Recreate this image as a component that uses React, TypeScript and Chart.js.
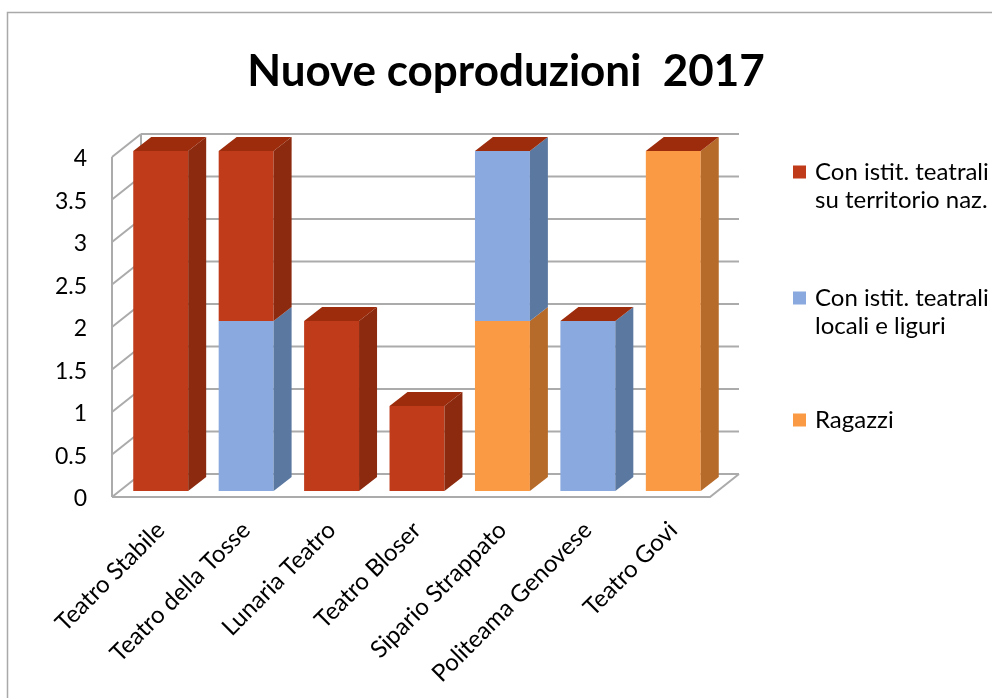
import React, { useEffect, useRef } from "react";
import { Chart, registerables } from "chart.js";

Chart.register(...registerables);

// ---------- data ----------
const TITLE = "Nuove coproduzioni  2017";
const CATEGORIES = [
  "Teatro Stabile",
  "Teatro della Tosse",
  "Lunaria Teatro",
  "Teatro Bloser",
  "Sipario Strappato",
  "Politeama Genovese",
  "Teatro Govi",
];
// legend order
const SERIES_NAMES = [
  ["Con istit. teatrali", "su territorio naz."],
  ["Con istit. teatrali", "locali e liguri"],
  ["Ragazzi"],
];
const NAZ = [4, 2, 2, 1, 0, 0, 0];
const LOCALI = [0, 2, 0, 0, 2, 2, 0];
const RAGAZZI = [0, 0, 0, 0, 2, 0, 4];
const Y_MIN = 0;
const Y_MAX = 4;
const Y_STEP = 0.5;

// ---------- styles ----------
const FONT = "Lato, 'Open Sans', sans-serif";
const FRONT = ["#BF3B1A", "#89A9DF", "#FB9A45"];
const SIDE = ["#8B2A0E", "#5B78A1", "#B76B2A"];
const TOP = "#9C2C0C";
const GRID = "#ababab";
const BAR_DEPTH = { dx: 18, dy: -14 };
const WALL_FRONT = { dx: -6, dy: 6 };
const WALL_BACK = { dx: 23, dy: -17 };

const SERIES_VALUES = [NAZ, LOCALI, RAGAZZI];

const framePlugin = {
  id: "frame",
  beforeDraw(chart: any) {
    const { ctx, width, height } = chart;
    ctx.save();
    ctx.fillStyle = "#ffffff";
    ctx.fillRect(0, 0, width, height);
    ctx.strokeStyle = "#a9a9a9";
    ctx.lineWidth = 1.5;
    ctx.beginPath();
    ctx.moveTo(7.5, height);
    ctx.lineTo(7.5, 12.5);
    ctx.lineTo(width, 12.5);
    ctx.stroke();
    ctx.restore();
  },
};

const wallsPlugin = {
  id: "walls",
  beforeDatasetsDraw(chart: any) {
    const { ctx, chartArea } = chart;
    const { left, right, top, bottom } = chartArea;
    const y = chart.scales.y;
    ctx.save();
    ctx.strokeStyle = GRID;
    ctx.lineWidth = 2;
    ctx.beginPath();
    y.ticks.forEach((t: any) => {
      const py = y.getPixelForValue(t.value);
      ctx.moveTo(left + WALL_BACK.dx, py + WALL_BACK.dy);
      ctx.lineTo(right + WALL_BACK.dx, py + WALL_BACK.dy);
      ctx.moveTo(left + WALL_FRONT.dx, py + WALL_FRONT.dy);
      ctx.lineTo(left + WALL_BACK.dx, py + WALL_BACK.dy);
    });
    ctx.moveTo(left + WALL_FRONT.dx, top + WALL_FRONT.dy);
    ctx.lineTo(left + WALL_FRONT.dx, bottom + WALL_FRONT.dy);
    ctx.moveTo(left + WALL_BACK.dx, top + WALL_BACK.dy);
    ctx.lineTo(left + WALL_BACK.dx, bottom + WALL_BACK.dy);
    ctx.moveTo(left + WALL_FRONT.dx, bottom + WALL_FRONT.dy);
    ctx.lineTo(right + WALL_FRONT.dx, bottom + WALL_FRONT.dy);
    ctx.lineTo(right + WALL_BACK.dx, bottom + WALL_BACK.dy);
    ctx.stroke();
    ctx.restore();
  },
};

const bars3dPlugin = {
  id: "bars3d",
  afterDatasetsDraw(chart: any) {
    const { ctx } = chart;
    const n = chart.data.labels.length;
    const topMost: number[] = new Array(n).fill(-1);
    chart.data.datasets.forEach((ds: any, di: number) => {
      ds.data.forEach((v: number, i: number) => {
        if (v > 0) topMost[i] = di;
      });
    });
    ctx.save();
    chart.data.datasets.forEach((ds: any, di: number) => {
      const meta = chart.getDatasetMeta(di);
      meta.data.forEach((bar: any, i: number) => {
        const { x, y, base, width } = bar.getProps(["x", "y", "base", "width"], true);
        const l = x - width / 2;
        const r = x + width / 2;
        const t = Math.min(y, base);
        const b = Math.max(y, base);
        if (b - t < 0.5) return;
        ctx.fillStyle = ds.sideColor;
        ctx.beginPath();
        ctx.moveTo(r, t);
        ctx.lineTo(r + BAR_DEPTH.dx, t + BAR_DEPTH.dy);
        ctx.lineTo(r + BAR_DEPTH.dx, b + BAR_DEPTH.dy);
        ctx.lineTo(r, b);
        ctx.closePath();
        ctx.fill();
        if (topMost[i] === di) {
          ctx.fillStyle = TOP;
          ctx.beginPath();
          ctx.moveTo(l, t);
          ctx.lineTo(l + BAR_DEPTH.dx, t + BAR_DEPTH.dy);
          ctx.lineTo(r + BAR_DEPTH.dx, t + BAR_DEPTH.dy);
          ctx.lineTo(r, t);
          ctx.closePath();
          ctx.fill();
        }
      });
    });
    ctx.restore();
  },
};

const textPlugin = {
  id: "texts",
  afterDraw(chart: any) {
    const { ctx } = chart;
    ctx.save();
    ctx.fillStyle = "#000000";
    ctx.font = `bold 44px ${FONT}`;
    ctx.textAlign = "center";
    ctx.textBaseline = "alphabetic";
    ctx.fillText(TITLE, 506, 86);
    const itemY = [172, 298, 420];
    ctx.font = `24px ${FONT}`;
    ctx.textAlign = "left";
    ctx.textBaseline = "middle";
    SERIES_NAMES.forEach((lines, s) => {
      const cy = itemY[s];
      ctx.fillStyle = FRONT[s];
      ctx.fillRect(793, cy - 6.5, 13, 13);
      ctx.fillStyle = "#000000";
      lines.forEach((ln, k) => {
        ctx.fillText(ln, 815, cy + k * 28);
      });
    });
    ctx.restore();
  },
};

export default function App() {
  const ref = useRef<HTMLCanvasElement>(null);
  useEffect(() => {
    if (!ref.current) return;
    const stackOrder = [2, 1, 0];
    const chart = new Chart(ref.current, {
      type: "bar",
      data: {
        labels: CATEGORIES,
        datasets: stackOrder.map((s) => ({
          label: SERIES_NAMES[s].join(" "),
          data: SERIES_VALUES[s],
          backgroundColor: FRONT[s],
          sideColor: SIDE[s],
          borderWidth: 0,
          barPercentage: 0.643,
          categoryPercentage: 1,
        })) as any,
      },
      options: {
        animation: false,
        responsive: false,
        devicePixelRatio: 1,
        layout: { padding: { left: 55, top: 151, right: 276, bottom: 0 } },
        plugins: {
          legend: { display: false },
          title: { display: false },
          tooltip: { enabled: false },
        },
        scales: {
          x: {
            stacked: true,
            grid: { display: false, drawTicks: false },
            border: { display: false },
            ticks: {
              autoSkip: false,
              maxRotation: 45,
              minRotation: 45,
              padding: 25,
              labelOffset: 0,
              color: "#000000",
              font: { family: FONT, size: 24 },
            },
            afterFit: (s: any) => {
              s.height = 207;
            },
          },
          y: {
            stacked: true,
            min: Y_MIN,
            max: Y_MAX,
            grid: { display: false, drawTicks: false },
            border: { display: false },
            ticks: {
              stepSize: Y_STEP,
              padding: 31,
              labelOffset: 8,
              color: "#000000",
              font: { family: FONT, size: 23 },
              callback: (v: any) => String(Number(v)),
            },
            afterFit: (s: any) => {
              s.width = 63;
            },
          },
        },
      },
      plugins: [framePlugin, wallsPlugin, bars3dPlugin, textPlugin],
    });
    return () => chart.destroy();
  }, []);
  return (
    <div style={{ position: "fixed", left: 0, top: 0, width: 992, height: 698 }}>
      <canvas ref={ref} width={992} height={698} style={{ display: "block" }} />
    </div>
  );
}
